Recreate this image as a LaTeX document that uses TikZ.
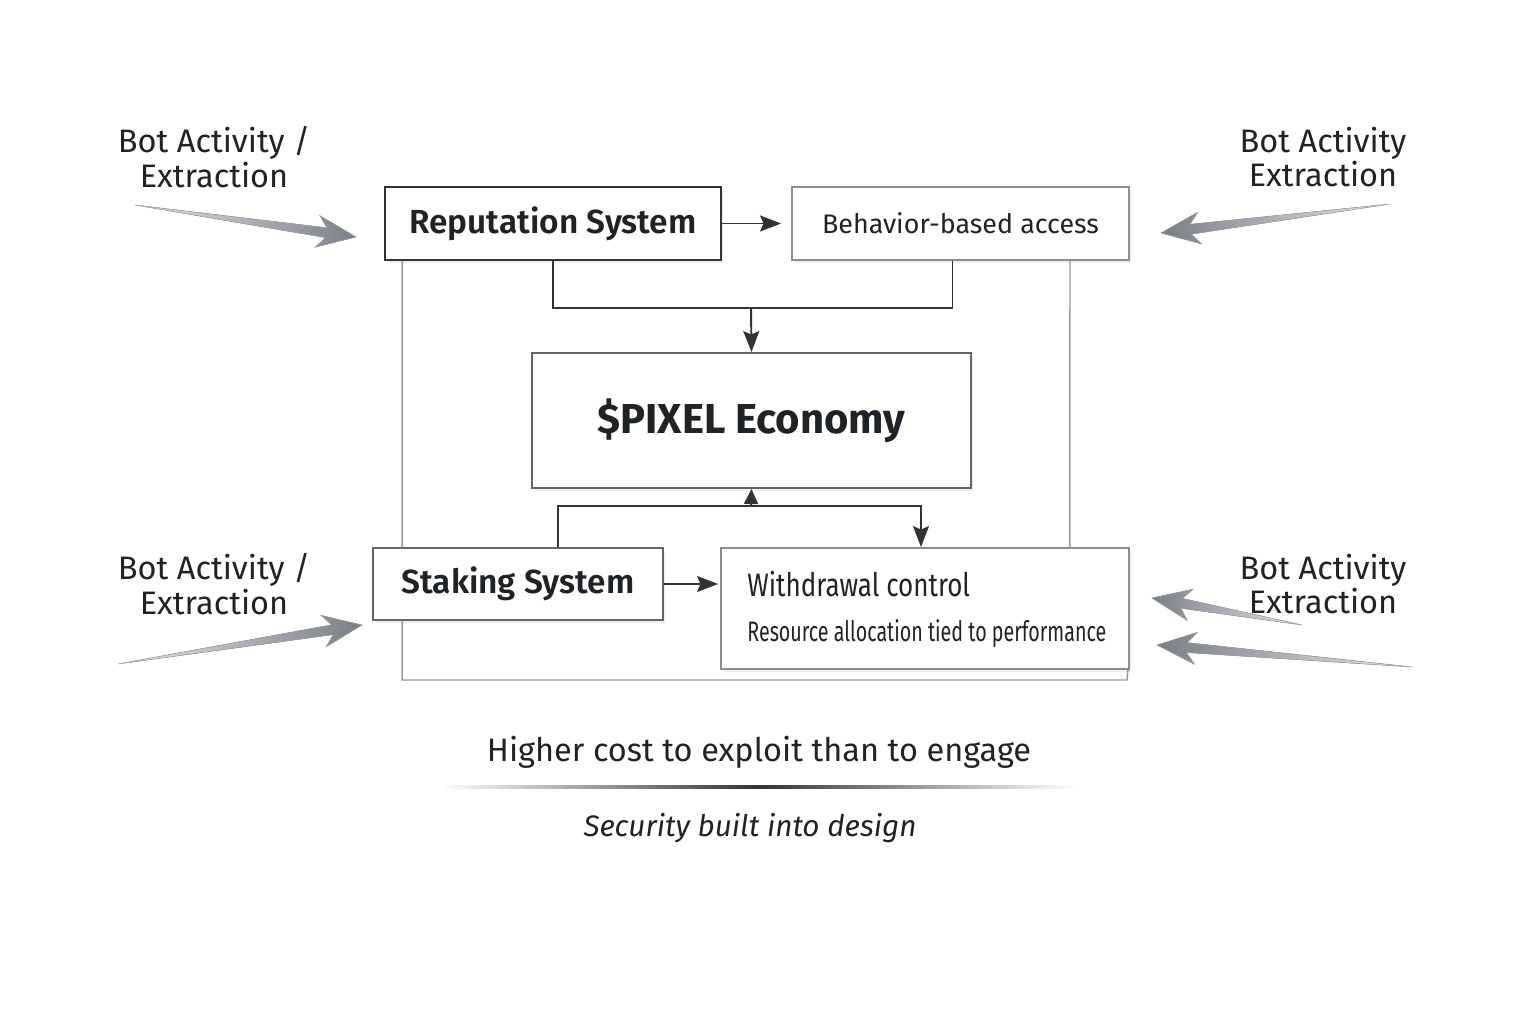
\documentclass[tikz,border=0pt]{standalone}
\usepackage{fontspec}
\setmainfont{Fira Sans}
\newfontfamily\semibold{Fira Sans}[UprightFont=* SemiBold]
\usepackage{graphicx}
\usetikzlibrary{arrows.meta, calc, shadows}

\definecolor{txt}{HTML}{1F2229}
\definecolor{edge}{HTML}{30333A}
\definecolor{midedge}{HTML}{62656B}
\definecolor{softedge}{HTML}{8A8D93}
\definecolor{framegray}{HTML}{95989D}
\definecolor{arrowdark}{HTML}{7A7E86}
\definecolor{arrowlight}{HTML}{E4E5E8}

\tikzset{
  box/.style={draw=edge, line width=1.1pt, fill=white, text=txt, inner sep=0pt,
    drop shadow={shadow xshift=0.05cm, shadow yshift=-0.07cm, opacity=0.12}},
  midbox/.style={box, draw=midedge},
  softbox/.style={box, draw=softedge},
  link/.style={draw=edge, line width=1.1pt},
  linkarrow/.style={link, -{Stealth[length=0.42cm, width=0.32cm, inset=0.07cm]}},
  shortarrow/.style={link, -{Triangle[length=0.3cm, width=0.28cm]}},
  frameline/.style={draw=framegray, line width=0.8pt},
  botlabel/.style={text=txt, align=center, font=\fontsize{18.5}{19.8}\selectfont},
}

% freccia sfumata (coda, punta, colore sinistro, colore destro)
\newcommand{\botarrow}[4]{%
  \fill[left color=#3, right color=#4, draw=arrowdark!70, line width=0.3pt]
    (#1) -- ($(#2)!0.6cm!(#1)!0.1cm!90:(#1)$)
    -- ($(#2)!0.78cm!(#1)!0.32cm!90:(#1)$) -- (#2)
    -- ($(#2)!0.78cm!(#1)!0.32cm!-90:(#1)$)
    -- ($(#2)!0.6cm!(#1)!0.1cm!-90:(#1)$) -- cycle;}

\begin{document}
\begin{tikzpicture}[x=0.02cm, y=-0.02cm]

    \fill[white] (0,0) rectangle (1536,1024);
    \useasboundingbox (0,0) rectangle (1536,1024);

    %-------------------------
    % Cornice esterna
    %-------------------------
    \coordinate (framecorner) at (1127,680);

    %-------------------------
    % Blocchi
    %-------------------------
    \node[box, minimum width=6.72cm, minimum height=1.46cm,
      font=\semibold\fontsize{19}{22}\selectfont] (rep) at (553,223.5) {Reputation System};
    \node[softbox, minimum width=6.74cm, minimum height=1.46cm,
      font=\fontsize{15.3}{18}\selectfont] (beh) at (960.5,223.5) {Behavior-based access};

    \node[midbox, minimum width=8.78cm, minimum height=2.7cm,
      font=\bfseries\fontsize{23.8}{26}\selectfont] (eco) at (751.5,420.5) {\$PIXEL Economy};

    \node[midbox, minimum width=5.8cm, minimum height=1.44cm,
      font=\semibold\fontsize{19}{22}\selectfont] (stk) at (518,584) {Staking System};
    \node[softbox, minimum width=8.16cm, minimum height=2.42cm] (wd) at (925,608.5) {};

    \node[anchor=west, text=txt, inner sep=0pt] (wdtitle) at ($(wd.north west)+(27,37)$)
      {\fontsize{18.5}{20}\selectfont\scalebox{0.8}[1]{Withdrawal control}};
    \node[anchor=west, text=txt, inner sep=0pt] (wdnote) at ($(wd.north west)+(27,86)$)
      {\fontsize{16}{18}\selectfont\scalebox{0.7}[1]{Resource allocation tied to performance}};

    % Cornice grigia
    \draw[frameline] ([xshift=0.36cm]rep.south west) -- ([xshift=0.6cm]stk.north west);
    \draw[frameline] ([xshift=0.6cm]stk.south west) |- (framecorner)
      -- ([xshift=-0.04cm]wd.south east);
    \draw[frameline] ([xshift=-1.2cm]beh.south east) -- ([xshift=-1.2cm]wd.north east);

    %-------------------------
    % Collegamenti
    %-------------------------
    \coordinate (mergept) at (751,308);
    \coordinate (splitpt) at (751,506);

    \draw[linkarrow, shorten >=0.2cm] (rep) -- (beh);
    \draw[link] (rep.south) |- (mergept) -| ([xshift=-0.16cm]beh.south);
    \draw[linkarrow] (mergept) -- (eco.north);

    \draw[linkarrow, shorten >=0.04cm] (stk) -- (wd.west |- stk);
    \draw[link] ([xshift=0.8cm]stk.north) |- (splitpt);
    \draw[linkarrow] (splitpt) -| ([xshift=-0.08cm]wd.north);
    \draw[shortarrow] (splitpt) -- (eco.south);

    %-------------------------
    % Attivita' dei bot
    %-------------------------
    \node[botlabel] (botTL) at (214,157) {Bot Activity /\\Extraction};
    \node[botlabel] (botTR) at (1323,157) {Bot Activity\\Extraction};
    \node[botlabel] (botBL) at (214,584) {Bot Activity /\\Extraction};
    \node[botlabel] (botBR) at (1323,584) {Bot Activity\\Extraction};

    \coordinate (tailTL) at (135,205);   \coordinate (tipTL) at (356,237);
    \coordinate (tailTR) at (1390,204);  \coordinate (tipTR) at (1161,233);
    \coordinate (tailBL) at (118,664);   \coordinate (tipBL) at (362,625);
    \coordinate (tailBRa) at (1302,625); \coordinate (tipBRa) at (1152,598);
    \coordinate (tailBRb) at (1412,667); \coordinate (tipBRb) at (1157,645);

    \botarrow{tailTL}{tipTL}{arrowlight}{arrowdark}
    \botarrow{tailTR}{tipTR}{arrowdark}{arrowlight}
    \botarrow{tailBL}{tipBL}{arrowlight}{arrowdark}
    \botarrow{tailBRa}{tipBRa}{arrowdark}{arrowlight}
    \botarrow{tailBRb}{tipBRb}{arrowdark}{arrowlight}

    %-------------------------
    % Didascalia
    %-------------------------
    \node[text=txt, font=\fontsize{18.5}{22}\selectfont] (cost) at (759,752)
      {Higher cost to exploit than to engage};
    \shade[left color=white, right color=white, middle color=edge]
      (440,785.5) rectangle (1075,788.5);
    \node[text=txt, font=\itshape\fontsize{16.9}{20}\selectfont] (motto) at (750,828)
      {Security built into design};

\end{tikzpicture}
\end{document}
